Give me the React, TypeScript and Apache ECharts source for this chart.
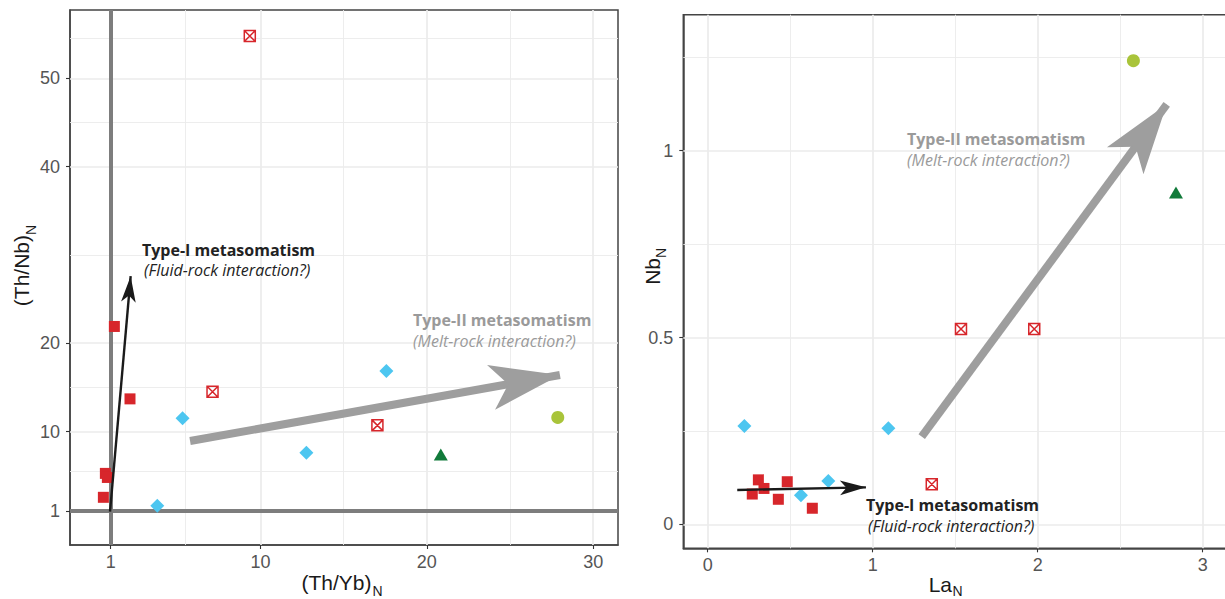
import React, { useEffect, useRef } from "react";
import * as echarts from "echarts";

// ---------- Left panel: (Th/Yb)N vs (Th/Nb)N ----------
const leftXRange = [-1.446, 31.49];
const leftYRange = [-2.85, 57.74];
const leftXTicks = [1, 10, 20, 30];
const leftYTicks = [1, 10, 20, 40, 50];
const leftXMinorGrid = [5.5, 15, 25];
const leftYMinorGrid = [5.5, 15, 30, 45, 54.5];
const leftRefX = [1];
const leftRefY = [1];

const leftRedSquares = [[1.22, 21.9], [2.16, 13.7], [0.68, 5.26], [0.8, 4.8], [0.56, 2.55]];
const leftRedCrossed = [[9.36, 54.8], [7.12, 14.5], [17.03, 10.7]];
const leftBlueDiamonds = [[3.8, 1.6], [5.32, 11.5], [12.76, 7.6], [17.57, 16.85]];
const leftGreenTriangles = [[20.84, 7.4]];
const leftLimeCircles = [[27.87, 11.6]];
const leftType1Arrow = [[0.96, 0.93], [2.2, 27.6]];
const leftType2Arrow = [[5.77, 8.93], [28.0, 16.4]];

// ---------- Right panel: LaN vs NbN ----------
const rightXRange = [-0.148, 3.2];
const rightYRange = [-0.0642, 1.364];
const rightXTicks = [0, 1, 2, 3];
const rightYTicks = [0, 0.5, 1];
const rightXMinorGrid = [0.5, 1.5, 2.5];
const rightYMinorGrid = [0.25, 0.75, 1.25];

const rightRedSquares = [[0.307, 0.119], [0.341, 0.096], [0.27, 0.081], [0.482, 0.114], [0.428, 0.067], [0.634, 0.043]];
const rightRedCrossed = [[1.535, 0.523], [1.979, 0.523], [1.358, 0.107]];
const rightBlueDiamonds = [[0.222, 0.263], [1.095, 0.257], [0.731, 0.116], [0.565, 0.078]];
const rightGreenTriangles = [[2.838, 0.888]];
const rightLimeCircles = [[2.58, 1.241]];
const rightType1Arrow = [[0.179, 0.092], [0.959, 0.099]];
const rightType2Arrow = [[1.297, 0.2345], [2.782, 1.124]];

const RED = "#d7262b";
const BLUE = "#4dc6f0";
const GREEN = "#117a3a";
const LIME = "#a9c43a";
const GRID = "#ebebeb";
const REF = "#7d7d7d";
const ARROW_GREY = "#9e9e9e";
const ARROW_BLACK = "#1a1a1a";
const TICK_TEXT = "#555555";
const CROSSED = "path://M0,0H10V10H0Z M0,0L10,10 M10,0L0,10";
const TICK_FONT = "Liberation Sans";
const NOTE_FONT = "Open Sans";

function gridLineData(xMajor: number[], xMinor: number[], yMajor: number[], yMinor: number[]) {
  return [
    ...xMinor.map((v) => ({ xAxis: v, lineStyle: { width: 0.9 } })),
    ...yMinor.map((v) => ({ yAxis: v, lineStyle: { width: 0.9 } })),
    ...xMajor.map((v) => ({ xAxis: v, lineStyle: { width: 1.7 } })),
    ...yMajor.map((v) => ({ yAxis: v, lineStyle: { width: 1.7 } })),
  ];
}

function arrowPair(pts: number[][], color: string, width: number, size: number[]) {
  return [
    { coord: pts[0], lineStyle: { color, width, type: "solid" } },
    { coord: pts[1], symbolSize: size },
  ];
}

function xAxisDef(gridIndex: number, range: number[], ticks: number[]) {
  return {
    type: "value",
    gridIndex,
    min: range[0],
    max: range[1],
    axisLine: { show: true, onZero: false, lineStyle: { color: "#444", width: 1.5 } },
    axisTick: { show: true, customValues: ticks, length: 4, lineStyle: { color: "#333", width: 1.1 } },
    axisLabel: { customValues: ticks, color: TICK_TEXT, fontSize: 18, fontFamily: TICK_FONT, margin: 8 },
    splitLine: { show: false },
  };
}

function yAxisDef(gridIndex: number, range: number[], ticks: number[]) {
  return {
    type: "value",
    gridIndex,
    min: range[0],
    max: range[1],
    axisLine: { show: true, onZero: false, lineStyle: { color: "#444", width: 1.5 } },
    axisTick: { show: true, customValues: ticks, length: 4, lineStyle: { color: "#333", width: 1.1 } },
    axisLabel: { customValues: ticks, color: TICK_TEXT, fontSize: 18, fontFamily: TICK_FONT, margin: 10 },
    splitLine: { show: false },
  };
}

function panelSeries(
  idx: number,
  red: number[][],
  crossed: number[][],
  blue: number[][],
  green: number[][],
  lime: number[][],
  gridData: any[],
  refData: any[],
  arrows: any[]
) {
  return [
    {
      type: "scatter",
      xAxisIndex: idx,
      yAxisIndex: idx,
      z: 3,
      symbol: "rect",
      symbolSize: 11,
      itemStyle: { color: RED, opacity: 1 },
      data: red,
      markLine: {
        silent: true,
        z: 1,
        symbol: ["none", "none"],
        label: { show: false },
        lineStyle: { color: GRID, type: "solid" },
        data: gridData,
      },
    },
    {
      type: "scatter",
      xAxisIndex: idx,
      yAxisIndex: idx,
      z: 3,
      symbol: CROSSED,
      symbolSize: 11,
      itemStyle: { color: "rgba(255,255,255,0)", borderColor: RED, borderWidth: 1.5, opacity: 1 },
      data: crossed,
      markLine: {
        silent: true,
        z: 2,
        symbol: ["none", "none"],
        label: { show: false },
        lineStyle: { color: REF, width: 4, type: "solid" },
        data: refData,
      },
    },
    {
      type: "scatter",
      xAxisIndex: idx,
      yAxisIndex: idx,
      z: 3,
      symbol: "diamond",
      symbolSize: 14,
      itemStyle: { color: BLUE, opacity: 1 },
      data: blue,
      markLine: {
        silent: true,
        z: 4,
        symbol: ["none", "arrow"],
        symbolSize: [11, 26],
        label: { show: false },
        data: arrows,
      },
    },
    {
      type: "scatter",
      xAxisIndex: idx,
      yAxisIndex: idx,
      z: 3,
      symbol: "triangle",
      symbolSize: [14, 12],
      itemStyle: { color: GREEN, opacity: 1 },
      data: green,
    },
    {
      type: "scatter",
      xAxisIndex: idx,
      yAxisIndex: idx,
      z: 3,
      symbol: "circle",
      symbolSize: 13,
      itemStyle: { color: LIME, opacity: 1 },
      data: lime,
    },
  ];
}

function note(x: number, y: number, text: string, color: string, bold: boolean) {
  return {
    type: "text",
    x,
    y,
    z: 10,
    style: {
      text,
      fill: color,
      fontFamily: NOTE_FONT,
      fontSize: 16,
      lineHeight: 17,
      fontWeight: bold ? "bold" : "normal",
      fontStyle: bold ? "normal" : "italic",
      align: "left",
      verticalAlign: "middle",
    },
  };
}

function title(x: number, y: number, text: string, size: number, align: string, rotation = 0) {
  return {
    type: "text",
    x,
    y,
    rotation,
    z: 10,
    style: {
      text,
      fill: "#1a1a1a",
      fontFamily: TICK_FONT,
      fontSize: size,
      align,
      verticalAlign: "middle",
    },
  };
}

export default function App() {
  const ref = useRef<HTMLDivElement>(null);
  useEffect(() => {
    if (!ref.current) return;
    const chart = echarts.init(ref.current, null, { renderer: "svg" });
    const option = {
      animation: false,
      backgroundColor: "#ffffff",
      grid: [
        { left: 70, top: 10, width: 548, height: 535, show: true, borderColor: "#444", borderWidth: 1.5, backgroundColor: "transparent", outerBoundsMode: "none", containLabel: false },
        { left: 683.3, top: 14.7, width: 552.4, height: 533.6, show: true, borderColor: "#444", borderWidth: 1.5, backgroundColor: "transparent", outerBoundsMode: "none", containLabel: false },
      ],
      xAxis: [xAxisDef(0, leftXRange, leftXTicks), xAxisDef(1, rightXRange, rightXTicks)],
      yAxis: [yAxisDef(0, leftYRange, leftYTicks), yAxisDef(1, rightYRange, rightYTicks)],
      series: [
        ...panelSeries(
          0,
          leftRedSquares,
          leftRedCrossed,
          leftBlueDiamonds,
          leftGreenTriangles,
          leftLimeCircles,
          gridLineData(leftXTicks, leftXMinorGrid, leftYTicks, leftYMinorGrid),
          [...leftRefX.map((v) => ({ xAxis: v })), ...leftRefY.map((v) => ({ yAxis: v }))],
          [
            arrowPair(leftType2Arrow, ARROW_GREY, 8, [34, 70]),
            arrowPair(leftType1Arrow, ARROW_BLACK, 2.4, [11, 26]),
          ]
        ),
        ...panelSeries(
          1,
          rightRedSquares,
          rightRedCrossed,
          rightBlueDiamonds,
          rightGreenTriangles,
          rightLimeCircles,
          gridLineData(rightXTicks, rightXMinorGrid, rightYTicks, rightYMinorGrid),
          [],
          [
            arrowPair(rightType2Arrow, ARROW_GREY, 8, [34, 70]),
            arrowPair(rightType1Arrow, ARROW_BLACK, 2.4, [11, 26]),
          ]
        ),
      ],
      graphic: [
        note(142, 250, "Type-I metasomatism", "#222222", true),
        note(144, 270, "(Fluid-rock interaction?)", "#222222", false),
        note(413, 320, "Type-II metasomatism", "#9a9a9a", true),
        note(413, 341, "(Melt-rock interaction?)", "#9a9a9a", false),
        note(907, 139, "Type-II metasomatism", "#9a9a9a", true),
        note(907, 160, "(Melt-rock interaction?)", "#9a9a9a", false),
        note(866, 505, "Type-I metasomatism", "#222222", true),
        note(868, 526, "(Fluid-rock interaction?)", "#222222", false),
        title(371.5, 582, "(Th/Yb)", 21, "right"),
        title(372.5, 591, "N", 14, "left"),
        title(952, 584.5, "La", 21, "right"),
        title(952.5, 591, "N", 14, "left"),
        title(21, 235, "(Th/Nb)", 21, "right", Math.PI / 2),
        title(30.5, 235, "N", 14, "left", Math.PI / 2),
        title(652, 258, "Nb", 21, "right", Math.PI / 2),
        title(661, 258, "N", 14, "left", Math.PI / 2),
      ],
    };
    chart.setOption(option as any);
    return () => chart.dispose();
  }, []);
  return (
    <div
      ref={ref}
      style={{ position: "absolute", left: 0, top: 0, width: 1225, height: 599, background: "#fff" }}
    />
  );
}
